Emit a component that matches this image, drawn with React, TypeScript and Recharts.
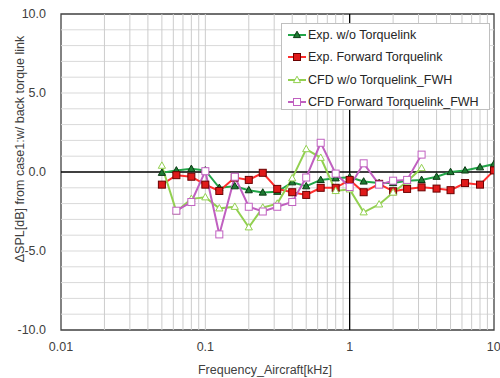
import React from "react";
import { ComposedChart, Line, XAxis, YAxis, ReferenceLine, ReferenceArea, Label } from "recharts";

// 1/3-octave centre frequencies [kHz]
const freqs = [0.05, 0.063, 0.08, 0.1, 0.125, 0.16, 0.2, 0.25, 0.315, 0.4, 0.5, 0.63, 0.8, 1.0, 1.25, 1.6, 2.0, 2.5, 3.15, 4, 5, 6.3, 8, 10];

const expWo = [-0.05, 0.1, 0.2, 0.1, -1.0, -0.9, -1.15, -1.3, -1.25, -0.65, -0.9, -0.5, -0.4, -0.33, -0.6, -0.7, -0.7, -0.55, -0.5, -0.3, 0.0, 0.1, 0.3, 0.5];
const expFwd = [-0.8, -0.2, -0.3, -0.8, -1.2, -0.35, -0.5, -0.05, -1.07, -1.28, -1.45, -1.0, -1.0, -0.5, -1.28, -0.75, -1.22, -1.07, -0.97, -1.05, -1.15, -0.7, -0.8, 0.1];
const cfdWo = [0.4, -2.5, -1.7, -1.6, -2.3, -2.2, -3.5, -2.25, -2.0, -0.4, 1.45, 0.9, -1.2, -1.1, -2.55, -2.05, -1.3, -0.6, 0.25];
const cfdFwd = [null, -2.45, -1.9, 0.05, -3.95, -0.3, -2.2, -2.5, -2.2, -1.9, -0.35, 1.85, -0.1, -0.95, 0.55, -0.8, -0.55, -0.5, 1.1];

const xTicks = [0.01, 0.1, 1, 10];
const yTicks = [-10, -5, 0, 5, 10];

const FONT = "'Liberation Sans', Arial, sans-serif";

const toPoints = (vals: (number | null)[]) =>
  vals
    .map((v, i) => ({ f: freqs[i], v }))
    .filter((p) => p.v !== null);

// gridlines: log minor ticks and every integer dB
const vGrid: number[] = [];
[0.01, 0.1, 1].forEach((d) => {
  for (let k = 2; k <= 9; k++) vGrid.push(d * k);
});
vGrid.push(0.1);
const hGrid: number[] = [];
for (let y = -9; y <= 9; y++) if (y !== 0) hGrid.push(y);

const series = [
  { name: "Exp. w/o Torquelink", data: toPoints(expWo), color: "#22a548", shape: "tri", fill: "#1d7a32", edge: "#0b3a14" },
  { name: "Exp. Forward Torquelink", data: toPoints(expFwd), color: "#ff2e2e", shape: "sq", fill: "#e01a1a", edge: "#6a0000" },
  { name: "CFD w/o Torquelink_FWH", data: toPoints(cfdWo), color: "#92d050", shape: "tri", fill: "#ffffff", edge: "#92d050" },
  { name: "CFD Forward Torquelink_FWH", data: toPoints(cfdFwd), color: "#c060c0", shape: "sq", fill: "#ffffff", edge: "#c060c0" },
];

function marker(shape: string, cx: number, cy: number, fill: string, edge: string, key?: any) {
  if (shape === "tri") {
    return (
      <path
        key={key}
        d={`M${cx},${cy - 3.8} L${cx + 3.6},${cy + 2.6} L${cx - 3.6},${cy + 2.6} Z`}
        fill={fill}
        stroke={edge}
        strokeWidth={1}
      />
    );
  }
  return <rect key={key} x={cx - 3.5} y={cy - 3.5} width={7} height={7} fill={fill} stroke={edge} strokeWidth={1} />;
}

function LegendBox() {
  return (
    <div
      style={{
        position: "absolute",
        left: 281,
        top: 23,
        border: "1px solid #bfbfbf",
        background: "#fff",
        width: 209,
        height: 87,
        boxSizing: "border-box",
        paddingTop: 0,
        fontFamily: FONT,
        fontSize: 12.5,
        color: "#262626",
      }}
    >
      {series.map((s) => (
        <div key={s.name} style={{ display: "flex", alignItems: "center", height: 22.3, paddingLeft: 5 }}>
          <svg width={20} height={10} style={{ marginRight: 1 }}>
            <line x1={1} y1={5} x2={19} y2={5} stroke={s.color} strokeWidth={2} />
            {marker(s.shape, 10, 5, s.fill, s.edge)}
          </svg>
          <span>{s.name}</span>
        </div>
      ))}
    </div>
  );
}

export default function App() {
  return (
    <div style={{ position: "absolute", left: 0, top: 0, width: 500, height: 378, background: "#fff" }}>
      <ComposedChart width={500} height={378} margin={{ top: 14, right: 6, bottom: 0, left: 0 }}>
        <XAxis
          dataKey="f"
          type="number"
          scale="log"
          domain={[0.01, 10]}
          ticks={xTicks}
          allowDataOverflow
          tickFormatter={(v) => String(v)}
          tickLine={false}
          axisLine={false}
          tickMargin={6}
          height={48}
          tick={{ fill: "#404040", fontSize: 12.5, fontFamily: FONT }}
        >
          <Label
            content={() => (
              <text x={265} y={370} textAnchor="middle" dominantBaseline="central" fill="#404040" fontSize={12.5} fontFamily={FONT}>
                Frequency_Aircraft[kHz]
              </text>
            )}
          />
        </XAxis>
        <YAxis
          type="number"
          domain={[-10, 10]}
          ticks={yTicks}
          tickFormatter={(v) => v.toFixed(1)}
          tickLine={false}
          axisLine={false}
          tickMargin={9}
          width={61}
          tick={{ fill: "#404040", fontSize: 12.5, fontFamily: FONT }}
        >
          <Label
            content={() => (
              <text
                x={20}
                y={149}
                transform="rotate(-90, 20, 149)"
                textAnchor="middle"
                dominantBaseline="central"
                fill="#404040"
                fontSize={12.5}
                fontFamily={FONT}
              >
                ΔSPL[dB] from case1:w/ back torque link
              </text>
            )}
          />
        </YAxis>

        {hGrid.map((y) => (
          <ReferenceLine key={"h" + y} y={y} stroke="#d9d9d9" strokeWidth={1} />
        ))}
        {vGrid.map((x) => (
          <ReferenceLine key={"v" + x} x={x} stroke="#cccccc" strokeWidth={1} />
        ))}
        <ReferenceLine y={0} stroke="#000" strokeWidth={1.3} />
        <ReferenceLine x={1} stroke="#000" strokeWidth={1.3} />
        <ReferenceArea x1={0.01} x2={10} y1={-10} y2={10} fill="none" stroke="#404040" strokeWidth={1.3} ifOverflow="visible" />

        {series.map((s) => (
          <Line
            key={s.name}
            data={s.data}
            dataKey="v"
            name={s.name}
            stroke={s.color}
            strokeWidth={2}
            isAnimationActive={false}
            dot={(p: any) => marker(s.shape, p.cx, p.cy, s.fill, s.edge, p.index)}
            activeDot={false}
          />
        ))}
      </ComposedChart>
      <LegendBox />
    </div>
  );
}
